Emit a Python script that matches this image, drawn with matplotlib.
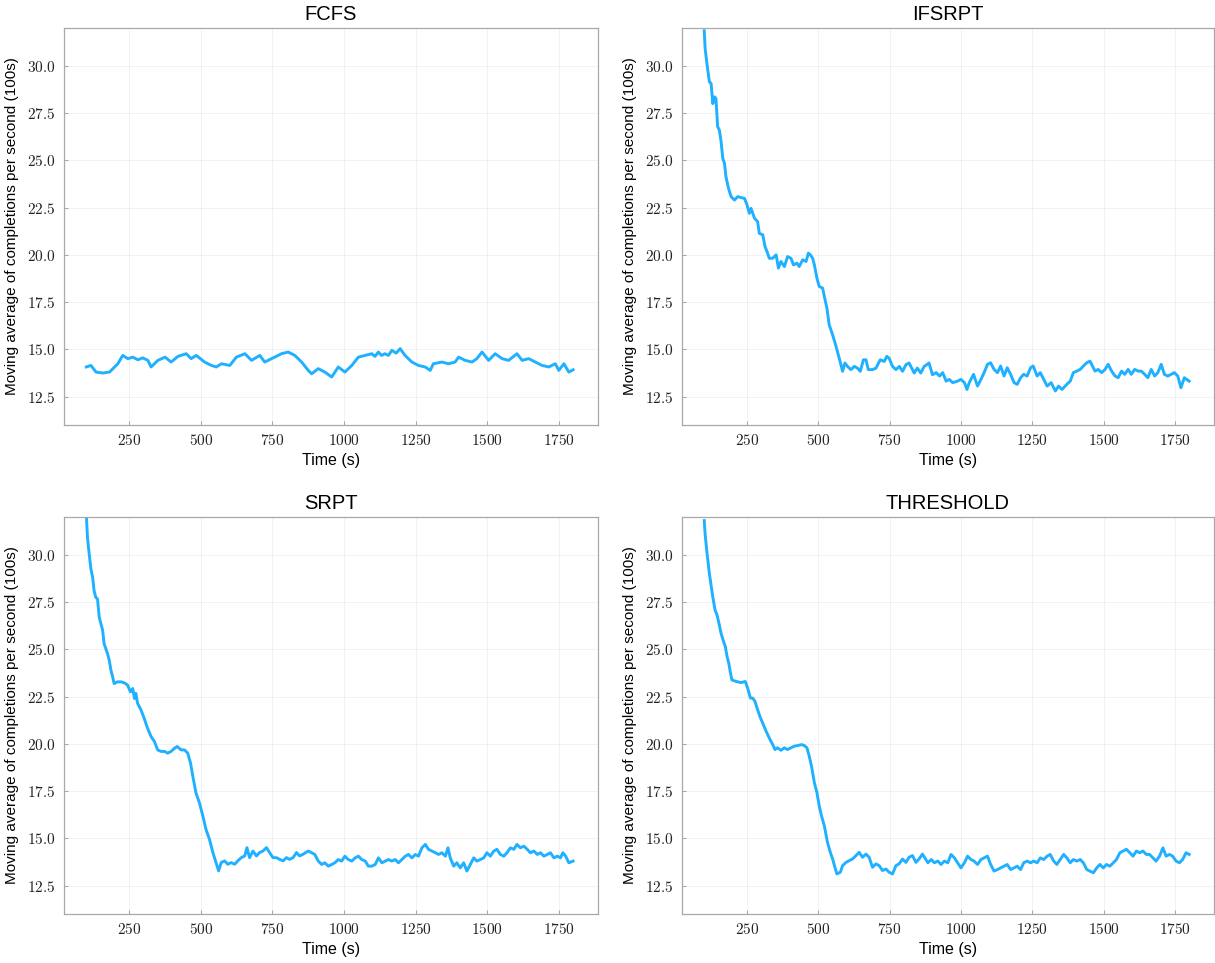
import matplotlib
matplotlib.use("Agg")
import matplotlib.pyplot as plt
from matplotlib.ticker import FuncFormatter

plt.rcParams['font.family'] = ['Liberation Sans', 'DejaVu Sans']
plt.rcParams['mathtext.fontset'] = 'cm'

# values
fcfs_t = [100, 116, 134, 157, 181, 210, 227, 245, 262, 280, 297, 315, 326, 350, 375, 396, 420, 449, 466, 484,
          513, 537, 554, 572, 601, 624, 654, 677, 706, 723, 747, 770, 781, 805, 828, 852, 875, 887,
          910, 933, 957, 980, 1003, 1027, 1050, 1073, 1097, 1108, 1120, 1131, 1143, 1155, 1167, 1182, 1196, 1213, 1237, 1260,
          1283, 1301, 1312, 1342, 1365, 1388, 1400, 1423, 1447, 1464, 1482, 1505, 1528, 1552, 1575,
          1604, 1622, 1645, 1668, 1692, 1715, 1738, 1750, 1768, 1785, 1800]
fcfs_v = [14.07, 14.15, 13.80, 13.75, 13.80, 14.24, 14.68, 14.51, 14.59, 14.45, 14.55, 14.42, 14.07, 14.42, 14.59,
          14.33, 14.63, 14.77, 14.51, 14.68, 14.33, 14.15, 14.07, 14.24, 14.15, 14.59, 14.77, 14.42,
          14.68, 14.33, 14.51, 14.68, 14.77, 14.86, 14.68, 14.33, 13.89, 13.71, 13.98, 13.80, 13.54,
          14.07, 13.80, 14.15, 14.59, 14.68, 14.77, 14.63, 14.86, 14.68, 14.77, 14.68, 14.95, 14.80, 15.04, 14.68, 14.33, 14.15,
          14.07, 13.89, 14.24, 14.33, 14.24, 14.33, 14.59, 14.42, 14.33, 14.51, 14.86, 14.42, 14.77,
          14.51, 14.42, 14.77, 14.42, 14.51, 14.33, 14.15, 14.07, 14.24, 13.89, 14.24, 13.80, 13.92]

ifsrpt_t = [100, 103, 110, 118, 124, 130, 136, 141, 147, 153, 159, 165, 171, 176, 185, 194, 206, 217,
            229, 241, 250, 258, 264, 276, 287, 293, 305, 313, 322, 328, 340, 352, 360, 369, 381, 392,
            404, 413, 425, 433, 445, 457, 465, 472, 480, 486, 495, 503, 515, 521, 530, 538, 550, 562,
            573, 585, 593, 602, 614, 626, 637, 647, 658, 667, 675, 690, 702, 717, 731, 740, 748, 760,
            772, 784, 795, 807, 818, 836, 847, 859, 871, 888, 900,
            913, 925, 936, 948, 959, 971, 988, 1000, 1012, 1021, 1029, 1044, 1058, 1070, 1081, 1093,
            1104, 1116, 1128, 1139, 1151, 1162, 1174, 1186, 1197, 1209, 1220, 1232, 1244, 1253, 1267,
            1278, 1290, 1302, 1316, 1331, 1342, 1354, 1371, 1383, 1394, 1406, 1418, 1429, 1441, 1452,
            1461, 1470, 1481, 1493, 1505, 1516, 1528, 1540, 1551, 1563, 1574, 1586, 1597, 1609, 1621,
            1632, 1644, 1655, 1667, 1679, 1690, 1702, 1713, 1725, 1737, 1748, 1760, 1771, 1783, 1800]
ifsrpt_v = [31.85, 30.92, 30.04, 29.15, 29.07, 28.00, 28.36, 28.27, 26.78, 26.60, 25.99, 25.10, 24.84,
            24.14, 23.52, 23.08, 22.90, 23.08, 23.03, 22.99, 22.64, 22.20, 22.46, 21.94, 21.76, 21.14,
            21.06, 20.44, 20.09, 19.82, 19.82, 20.00, 19.30, 19.65, 19.38, 19.91, 19.82, 19.47, 19.56,
            19.38, 19.74, 19.65, 20.09, 20.00, 19.82, 19.47, 18.77, 18.33, 18.24, 17.80, 17.18, 16.30,
            15.77, 15.16, 14.54, 13.84, 14.28, 14.10, 13.93, 14.10, 14.01, 13.84, 14.45, 14.45, 13.93,
            13.93, 14.01, 14.45, 14.36, 14.63, 14.54, 14.10, 13.93, 14.10, 13.84, 14.19, 14.28, 13.75,
            14.01, 13.75, 14.10, 14.28, 13.66,
            13.77, 13.59, 13.77, 13.32, 13.41, 13.24, 13.32, 13.41, 13.24, 12.88, 13.24, 13.68, 13.06,
            13.41, 13.77, 14.21, 14.29, 13.94, 13.77, 14.12, 13.59, 14.03, 13.68, 13.24, 13.15, 13.50,
            13.68, 13.59, 14.03, 14.12, 13.59, 13.77, 13.41, 13.06, 13.24, 12.80, 13.06, 12.88, 13.15,
            13.32, 13.77, 13.85, 13.94, 14.12, 14.29, 14.38, 14.12, 13.85, 13.94, 13.77, 13.94, 14.21,
            13.85, 13.59, 13.50, 13.85, 13.68, 13.94, 13.68, 13.94, 13.85, 13.85, 13.68, 13.50, 13.94,
            13.59, 13.77, 14.21, 13.68, 13.59, 13.68, 13.77, 13.59, 12.97, 13.50, 13.32]

srpt_t = [100, 104, 110, 116, 122, 127, 133, 139, 145, 151, 157, 162, 168, 174, 180, 186, 192, 197,
          209, 221, 232, 244, 254, 262, 268, 273, 279, 291, 302, 314, 326, 338, 349, 361, 373, 384,
          396, 408, 417, 431, 443, 454, 464, 472, 483, 495, 507, 518, 530, 542, 553, 562, 571, 583,
          594, 606, 618, 629, 641, 653, 661, 670, 682, 694, 705, 717, 729, 740, 752, 764, 775, 787,
          799, 810, 822, 834, 845, 857, 875,
          887, 898, 910, 922, 933, 945, 957, 968, 980, 992, 1003, 1015, 1027, 1039, 1050, 1062, 1074,
          1085, 1097, 1109, 1120, 1132, 1144, 1155, 1167, 1179, 1190, 1202, 1214, 1225, 1237, 1249,
          1260, 1272, 1284, 1295, 1307, 1319, 1330, 1342, 1354, 1363, 1371, 1383, 1394, 1406, 1418,
          1429, 1441, 1453, 1464, 1476, 1488, 1499, 1511, 1523, 1534, 1546, 1558, 1569, 1581, 1593,
          1604, 1616, 1628, 1640, 1651, 1663, 1675, 1686, 1698, 1710, 1721, 1733, 1745, 1756, 1764,
          1774, 1785, 1800]
srpt_v = [32.10, 30.91, 30.04, 29.25, 28.81, 28.11, 27.75, 27.67, 26.70, 26.35, 26.00, 25.30, 25.04,
          24.77, 24.42, 23.89, 23.54, 23.19, 23.28, 23.28, 23.23, 23.11, 22.75, 22.93, 22.40, 22.67,
          22.14, 21.79, 21.35, 20.82, 20.39, 20.12, 19.68, 19.60, 19.60, 19.51, 19.60, 19.77, 19.86,
          19.68, 19.68, 19.51, 18.98, 18.28, 17.40, 16.88, 16.18, 15.47, 14.95, 14.25, 13.72, 13.28,
          13.72, 13.81, 13.63, 13.72, 13.63, 13.81, 13.98, 14.07, 14.51, 13.98, 14.33, 14.07, 14.25,
          14.33, 14.51, 14.25, 13.98, 13.98, 13.89, 13.81, 13.98, 13.89, 13.98, 14.25, 14.07, 14.16,
          14.33,
          14.24, 14.15, 13.80, 13.62, 13.71, 13.53, 13.62, 13.71, 13.88, 13.80, 14.06, 13.88, 13.80,
          13.97, 14.06, 13.88, 13.80, 13.53, 13.53, 13.62, 13.97, 13.71, 13.80, 13.88, 13.80, 13.88,
          13.71, 13.88, 14.06, 14.15, 13.97, 14.15, 14.06, 14.50, 14.68, 14.42, 14.33, 14.24, 14.15,
          14.24, 14.06, 14.50, 13.97, 13.53, 13.71, 13.44, 13.71, 13.27, 13.62, 13.97, 13.80, 13.88,
          13.97, 14.24, 14.06, 14.33, 14.42, 14.15, 14.06, 14.24, 14.50, 14.42, 14.68, 14.50, 14.59,
          14.42, 14.24, 14.33, 14.15, 14.24, 14.06, 14.15, 14.24, 13.97, 14.06, 13.97, 14.24, 14.06,
          13.71, 13.80]

thr_t = [100, 103, 110, 118, 124, 130, 138, 145, 153, 159, 168, 174, 180, 186, 192, 197, 212, 229,
         244, 252, 262, 270, 278, 287, 297, 305, 317, 328, 340, 348, 357, 369, 381, 392, 404, 416,
         427, 441, 451, 460, 468, 476, 486, 495, 503, 511, 521, 532, 542, 550, 558, 565, 577, 585,
         597, 608, 620, 632, 643, 655, 667, 678, 690, 702, 713, 725, 737, 748, 760, 772, 783, 795,
         807, 818, 830, 842, 853, 865,
         884, 896, 907, 919, 930, 942, 954, 965, 977, 988, 1000, 1012, 1023, 1035, 1046, 1058, 1070,
         1081, 1093, 1104, 1116, 1128, 1139, 1151, 1162, 1174, 1186, 1197, 1209, 1220, 1232, 1244,
         1255, 1267, 1278, 1290, 1302, 1313, 1325, 1336, 1348, 1360, 1371, 1383, 1394, 1406, 1418,
         1429, 1441, 1452, 1464, 1476, 1487, 1499, 1510, 1522, 1534, 1545, 1557, 1568, 1580, 1592,
         1603, 1615, 1626, 1638, 1650, 1661, 1673, 1684, 1696, 1708, 1719, 1731, 1742, 1754, 1766,
         1777, 1789, 1800]
thr_v = [31.81, 31.10, 30.05, 29.00, 28.39, 27.77, 27.07, 26.81, 26.28, 25.84, 25.40, 25.14, 24.61,
         24.26, 23.74, 23.38, 23.30, 23.24, 23.30, 22.95, 22.42, 22.42, 22.24, 21.81, 21.37, 21.10,
         20.66, 20.31, 19.96, 19.70, 19.79, 19.66, 19.79, 19.70, 19.79, 19.88, 19.91, 19.96, 19.91,
         19.79, 19.35, 18.82, 17.95, 17.42, 16.72, 16.19, 15.66, 14.79, 14.26, 13.91, 13.47, 13.12,
         13.21, 13.56, 13.73, 13.82, 13.91, 14.09, 14.26, 14.00, 14.17, 14.00, 13.47, 13.65, 13.56,
         13.30, 13.38, 13.21, 13.12, 13.56, 13.65, 13.91, 13.73, 14.00, 14.09, 13.73, 13.91, 14.17,
         13.71, 13.88, 13.71, 13.80, 13.62, 13.80, 13.71, 14.15, 13.97, 13.71, 13.44, 13.71, 14.06,
         13.88, 13.80, 13.62, 13.88, 13.97, 14.06, 13.62, 13.27, 13.35, 13.44, 13.53, 13.62, 13.35,
         13.44, 13.53, 13.35, 13.71, 13.80, 13.71, 13.80, 13.71, 13.97, 13.88, 14.06, 14.15, 13.80,
         13.62, 13.88, 14.15, 13.97, 13.71, 13.88, 13.80, 13.88, 13.71, 13.35, 13.27, 13.18, 13.44,
         13.62, 13.44, 13.62, 13.53, 13.71, 13.88, 14.24, 14.33, 14.42, 14.24, 14.06, 14.33, 14.24,
         14.33, 14.15, 14.15, 13.97, 13.80, 14.06, 14.50, 14.06, 14.15, 14.06, 13.80, 13.71, 13.88,
         14.24, 14.15]

titles = ["FCFS", "IFSRPT", "SRPT", "THRESHOLD"]
series = [(fcfs_t, fcfs_v), (ifsrpt_t, ifsrpt_v), (srpt_t, srpt_v), (thr_t, thr_v)]
xticks = [250, 500, 750, 1000, 1250, 1500, 1750]
yticks = [12.5, 15.0, 17.5, 20.0, 22.5, 25.0, 27.5, 30.0]

W, H = 1215, 963
fig = plt.figure(figsize=(W / 100, H / 100), dpi=100)

# axes boxes in pixels: left, right, top, bottom
boxes = [(64, 598, 28, 425), (682, 1214, 28, 425), (64, 598, 517, 914), (682, 1214, 517, 914)]

line_col = "#1fb0ff"
frame_col = "#a8a8a8"

for (l, r, t, b), title, (xs, ys) in zip(boxes, titles, series):
    ax = fig.add_axes([l / W, 1 - b / H, (r - l) / W, (b - t) / H])
    ax.plot(xs, ys, color=line_col, lw=2.1, solid_joinstyle='round')
    ax.set_xlim(22, 1887)
    ax.set_ylim(11.0, 32.0)
    ax.set_xticks(xticks)
    ax.set_yticks(yticks)
    ax.xaxis.set_major_formatter(FuncFormatter(lambda v, p: f"${v:.0f}$"))
    ax.yaxis.set_major_formatter(FuncFormatter(lambda v, p: f"${v:.1f}$"))
    ax.grid(True, color="#000000", alpha=0.06, lw=0.6)
    ax.set_axisbelow(True)
    for s in ax.spines.values():
        s.set_color(frame_col)
        s.set_linewidth(0.9)
    ax.tick_params(direction='in', length=3, width=0.8, color=frame_col,
                   labelsize=11, labelcolor="#222222", pad=6)
    ax.set_title(title, fontsize=14.5, pad=6)
    ax.set_xlabel("Time (s)", fontsize=11.5, labelpad=3)
    ax.set_ylabel("Moving average of completions per second (100s)", fontsize=11, labelpad=6)

fig.savefig("out.png", dpi=100)
